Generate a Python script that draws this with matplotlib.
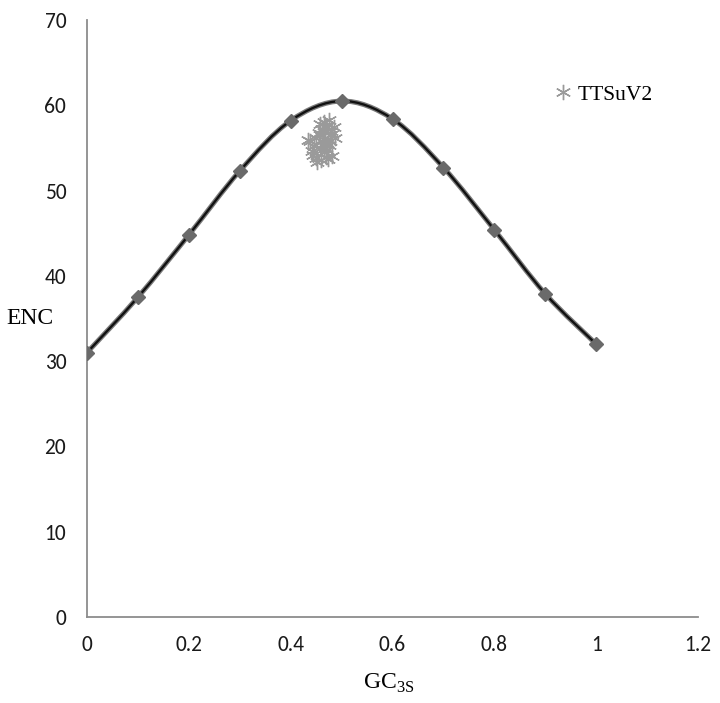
"""ENC vs GC3s plot: expected-ENC curve with TTSuV2 points."""
import matplotlib
matplotlib.use("Agg")
import matplotlib.pyplot as plt
import numpy as np
from matplotlib.path import Path
from matplotlib.patches import PathPatch

plt.rcParams["mathtext.fontset"] = "custom"
plt.rcParams["mathtext.rm"] = "Liberation Serif"

SERIF = "Liberation Serif"
SANS = ["Carlito", "Liberation Sans", "DejaVu Sans"]

# expected ENC curve (diamonds)
curve_gc3 = [0.0, 0.1, 0.2, 0.3, 0.4, 0.5, 0.6, 0.7, 0.8, 0.9, 1.0]
curve_enc = [31.0, 37.5, 44.8, 52.3, 58.2, 60.5, 58.4, 52.7, 45.4, 37.9, 32.0]

# TTSuV2 genes
ttsuv2_gc3 = [0.438, 0.444, 0.450, 0.458, 0.460, 0.462, 0.466, 0.465, 0.468, 0.474,
              0.470, 0.476, 0.480, 0.476, 0.482, 0.486, 0.481, 0.455, 0.446, 0.460,
              0.468, 0.472, 0.463, 0.458, 0.470, 0.478, 0.466, 0.450, 0.474, 0.469,
              0.441, 0.488, 0.452, 0.434]
ttsuv2_enc = [55.8, 54.2, 53.8, 56.5, 55.0, 57.2, 58.0, 54.5, 57.6, 56.0,
              53.9, 58.3, 57.0, 55.3, 56.6, 57.4, 54.0, 56.8, 55.2, 53.6,
              55.6, 54.8, 56.0, 57.8, 57.5, 55.8, 56.9, 56.2, 53.7, 55.0,
              54.6, 56.2, 53.4, 55.9]

x_ticks = [0, 0.2, 0.4, 0.6, 0.8, 1.0, 1.2]
x_labels = ["0", "0.2", "0.4", "0.6", "0.8", "1", "1.2"]
y_ticks = [0, 10, 20, 30, 40, 50, 60, 70]

fig = plt.figure(figsize=(7.2, 7.03), dpi=100)
ax = fig.add_axes([87 / 720, 86 / 703, 611 / 720, 597 / 703])

# smoothed line through the points (Excel-style cubic bezier)
pts = np.column_stack([curve_gc3, curve_enc])
verts = [tuple(pts[0])]
codes = [Path.MOVETO]
n = len(pts)
for i in range(n - 1):
    p0 = pts[max(i - 1, 0)]
    p1 = pts[i]
    p2 = pts[i + 1]
    p3 = pts[min(i + 2, n - 1)]
    c1 = p1 + (p2 - p0) / 6
    c2 = p2 - (p3 - p1) / 6
    verts += [tuple(c1), tuple(c2), tuple(p2)]
    codes += [Path.CURVE4] * 3
path = Path(verts, codes)
ax.add_patch(PathPatch(path, fill=False, ec="#7a7a7a", lw=3.6, zorder=3))
ax.add_patch(PathPatch(path, fill=False, ec="#111111", lw=1.7, zorder=4))
ax.plot(curve_gc3, curve_enc, ls="none", marker="D", ms=7.2, color="#6a6a6a", zorder=5)

ax.plot(ttsuv2_gc3, ttsuv2_enc, ls="none", marker=(6, 2, 0), ms=11, mew=1.0,
        color="#9a9a9a", zorder=6, label="TTSuV2")

ax.set_xlim(0, 1.2)
ax.set_ylim(0, 70)
ax.set_xticks(x_ticks)
ax.set_xticklabels(x_labels, family=SANS, fontsize=15.5)
ax.set_yticks(y_ticks)
ax.set_yticklabels([str(v) for v in y_ticks], family=SANS, fontsize=15.5)
ax.tick_params(length=0, pad=13, colors="#1a1a1a")
ax.tick_params(axis="y", pad=15)

for sp in ("top", "right"):
    ax.spines[sp].set_visible(False)
for sp in ("left", "bottom"):
    ax.spines[sp].set_color("#8c8c8c")
    ax.spines[sp].set_linewidth(1.3)

fig.text(30 / 720, 1 - 318 / 703, "ENC", family=SERIF, fontsize=17, ha="center", va="center")
fig.text(389 / 720, 1 - 683 / 703, r"GC$_{\mathrm{3S}}$", family=SERIF, fontsize=17,
         ha="center", va="center")

leg = ax.legend(loc="center left", bbox_to_anchor=(544 / 720, 1 - 95 / 703),
                bbox_transform=fig.transFigure, frameon=False, handlelength=0.8,
                handletextpad=0.25, borderpad=0, prop={"family": SERIF, "size": 15.5})

fig.savefig("out.png", dpi=100, facecolor="white")
